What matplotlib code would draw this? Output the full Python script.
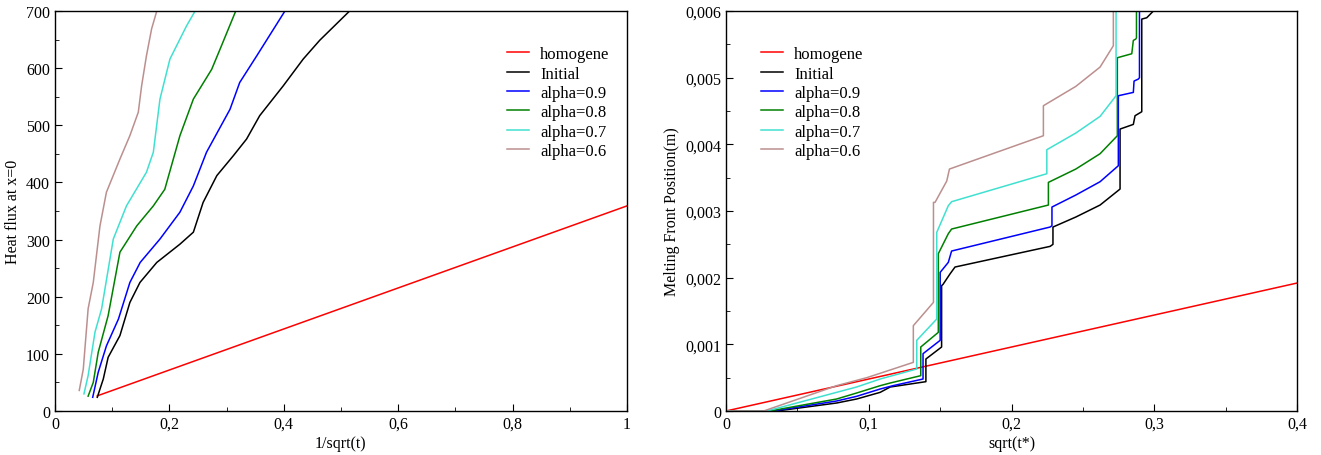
import matplotlib
matplotlib.use("Agg")
import matplotlib.pyplot as plt
from matplotlib.ticker import MultipleLocator, FuncFormatter

plt.rcParams['font.family'] = ['Liberation Serif', 'DejaVu Serif']
fs = 11.5
lfs = 12

# ---- left panel: heat flux at x=0 vs 1/sqrt(t)
hom_x = [0.074, 1.0]
hom_y = [26.5, 359]

ini_x = [0.074, 0.0845, 0.093, 0.1136, 0.131, 0.1486, 0.178, 0.2185, 0.242, 0.259, 0.283, 0.312, 0.335, 0.358, 0.399, 0.434, 0.463, 0.515]
ini_y = [24, 56, 94, 132, 190, 225, 260, 292, 313, 365, 412, 447, 476, 517, 569, 616, 649, 700]

a9_x = [0.066, 0.0757, 0.090, 0.111, 0.131, 0.149, 0.1836, 0.2185, 0.242, 0.265, 0.306, 0.323, 0.353, 0.402]
a9_y = [24, 68, 114, 161, 225, 260, 301, 348, 394, 453, 528, 575, 622, 700]

a8_x = [0.058, 0.067, 0.0757, 0.093, 0.1136, 0.143, 0.172, 0.192, 0.2185, 0.242, 0.274, 0.291, 0.316]
a8_y = [26, 50, 103, 167, 278, 324, 359, 388, 482, 546, 598, 639, 700]

a7_x = [0.0507, 0.058, 0.070, 0.0816, 0.102, 0.125, 0.160, 0.172, 0.1836, 0.201, 0.230, 0.245]
a7_y = [30, 62, 138, 179, 301, 359, 418, 453, 546, 616, 674, 700]

a6_x = [0.0425, 0.0495, 0.058, 0.067, 0.0787, 0.090, 0.1136, 0.131, 0.1457, 0.1515, 0.160, 0.169, 0.178]
a6_y = [36, 73, 179, 225, 324, 383, 441, 482, 523, 569, 622, 669, 700]

# ---- right panel: melting front position vs sqrt(t*)
r_hom_x = [0.0, 0.4]
r_hom_y = [0.0, 0.00192]

r_ini_x = [0.0, 0.0355, 0.0775, 0.0915, 0.108, 0.115, 0.140, 0.140, 0.151, 0.151, 0.152, 0.157, 0.1604, 0.227, 0.229, 0.229, 0.245, 0.262, 0.276, 0.276, 0.2853, 0.2865, 0.2912, 0.2912, 0.2947, 0.2993]
r_ini_y = [0.0, 0.0, 0.00012, 0.00018, 0.00028, 0.00036, 0.00044, 0.00078, 0.00096, 0.00188, 0.0019, 0.00206, 0.00216, 0.00247, 0.00250, 0.00276, 0.00291, 0.00309, 0.00333, 0.00423, 0.0043, 0.00443, 0.00449, 0.00588, 0.0059, 0.006]

r_a9_x = [0.0, 0.033, 0.0775, 0.0915, 0.108, 0.117, 0.138, 0.138, 0.150, 0.150, 0.1557, 0.158, 0.227, 0.2283, 0.2283, 0.245, 0.262, 0.2748, 0.2748, 0.2853, 0.2858, 0.2888, 0.2896, 0.2896]
r_a9_y = [0.0, 0.0, 0.00015, 0.00022, 0.00033, 0.00038, 0.00048, 0.00086, 0.00106, 0.00208, 0.00223, 0.0024, 0.00276, 0.00278, 0.00306, 0.00324, 0.00344, 0.00368, 0.00473, 0.00478, 0.00495, 0.00498, 0.00500, 0.0062]

r_a8_x = [0.0, 0.0305, 0.0775, 0.0915, 0.108, 0.115, 0.1364, 0.1364, 0.1487, 0.1487, 0.1557, 0.158, 0.2258, 0.2258, 0.245, 0.262, 0.2741, 0.2741, 0.2842, 0.2853, 0.287, 0.2875, 0.2875]
r_a8_y = [0.0, 0.0, 0.00018, 0.00027, 0.00038, 0.00042, 0.00053, 0.00096, 0.00118, 0.00236, 0.00266, 0.00273, 0.00309, 0.00343, 0.00363, 0.00386, 0.00413, 0.0053, 0.00536, 0.00556, 0.00558, 0.0056, 0.0062]

r_a7_x = [0.0, 0.0287, 0.0775, 0.0915, 0.108, 0.1336, 0.1336, 0.1476, 0.1476, 0.1557, 0.158, 0.2247, 0.2247, 0.245, 0.262, 0.2732, 0.2732]
r_a7_y = [0.0, 0.0, 0.00028, 0.00036, 0.00048, 0.00063, 0.00106, 0.00138, 0.00268, 0.00308, 0.00314, 0.00356, 0.00392, 0.00417, 0.00442, 0.00473, 0.0062]

r_a6_x = [0.0, 0.0264, 0.0775, 0.0986, 0.110, 0.1312, 0.1312, 0.1453, 0.1453, 0.1464, 0.1546, 0.1565, 0.2223, 0.2223, 0.245, 0.262, 0.2713, 0.2713]
r_a6_y = [0.0, 0.0, 0.00038, 0.00050, 0.00058, 0.00073, 0.00128, 0.00163, 0.00313, 0.00313, 0.00345, 0.00363, 0.00413, 0.00458, 0.00487, 0.00516, 0.00548, 0.0062]

labels = ["homogene", "Initial", "alpha=0.9", "alpha=0.8", "alpha=0.7", "alpha=0.6"]
colors = ["#ff0000", "#000000", "#0000ff", "#008000", "#40e0d0", "#bc8f8f"]


def comma(v, pos):
    s = "%g" % round(v, 6)
    return s.replace(".", ",")


fig = plt.figure(figsize=(13.21, 4.56), dpi=100)
ax1 = fig.add_axes([0.0416, 0.0965, 0.433, 0.877])
ax2 = fig.add_axes([0.5496, 0.0965, 0.4323, 0.877])

left = [(hom_x, hom_y), (ini_x, ini_y), (a9_x, a9_y), (a8_x, a8_y), (a7_x, a7_y), (a6_x, a6_y)]
right = [(r_hom_x, r_hom_y), (r_ini_x, r_ini_y), (r_a9_x, r_a9_y), (r_a8_x, r_a8_y), (r_a7_x, r_a7_y), (r_a6_x, r_a6_y)]

for (x, y), c, l in zip(left, colors, labels):
    ax1.plot(x, y, color=c, lw=1.1, label=l)
for (x, y), c, l in zip(right, colors, labels):
    ax2.plot(x, y, color=c, lw=1.1, label=l)

ax1.set_xlim(0, 1)
ax1.set_ylim(0, 700)
ax1.xaxis.set_major_locator(MultipleLocator(0.2))
ax1.xaxis.set_minor_locator(MultipleLocator(0.1))
ax1.yaxis.set_major_locator(MultipleLocator(100))
ax1.yaxis.set_minor_locator(MultipleLocator(50))
ax1.set_xlabel("1/sqrt(t)", fontsize=fs, labelpad=2)
ax1.set_ylabel("Heat flux at x=0", fontsize=fs, labelpad=4)

ax2.set_xlim(0, 0.4)
ax2.set_ylim(0, 0.006)
ax2.xaxis.set_major_locator(MultipleLocator(0.1))
ax2.xaxis.set_minor_locator(MultipleLocator(0.05))
ax2.yaxis.set_major_locator(MultipleLocator(0.001))
ax2.yaxis.set_minor_locator(MultipleLocator(0.0005))
ax2.set_xlabel("sqrt(t*)", fontsize=fs, labelpad=2)
ax2.set_ylabel("Melting Front Position(m)", fontsize=fs, labelpad=4)

for ax in (ax1, ax2):
    ax.xaxis.set_major_formatter(FuncFormatter(comma))
    ax.yaxis.set_major_formatter(FuncFormatter(comma))
    ax.tick_params(which="both", direction="in", top=False, right=False, labelsize=fs)
    ax.tick_params(which="major", length=5)
    ax.tick_params(which="minor", length=3)
    for sp in ax.spines.values():
        sp.set_linewidth(1.0)

ax1.legend(loc="upper left", bbox_to_anchor=(0.79, 0.912), frameon=False, fontsize=lfs,
           handlelength=1.35, handletextpad=0.65, labelspacing=0.2, borderpad=0, borderaxespad=0)
ax2.legend(loc="upper left", bbox_to_anchor=(0.061, 0.912), frameon=False, fontsize=lfs,
           handlelength=1.35, handletextpad=0.65, labelspacing=0.2, borderpad=0, borderaxespad=0)

fig.savefig("out.png", dpi=100)
